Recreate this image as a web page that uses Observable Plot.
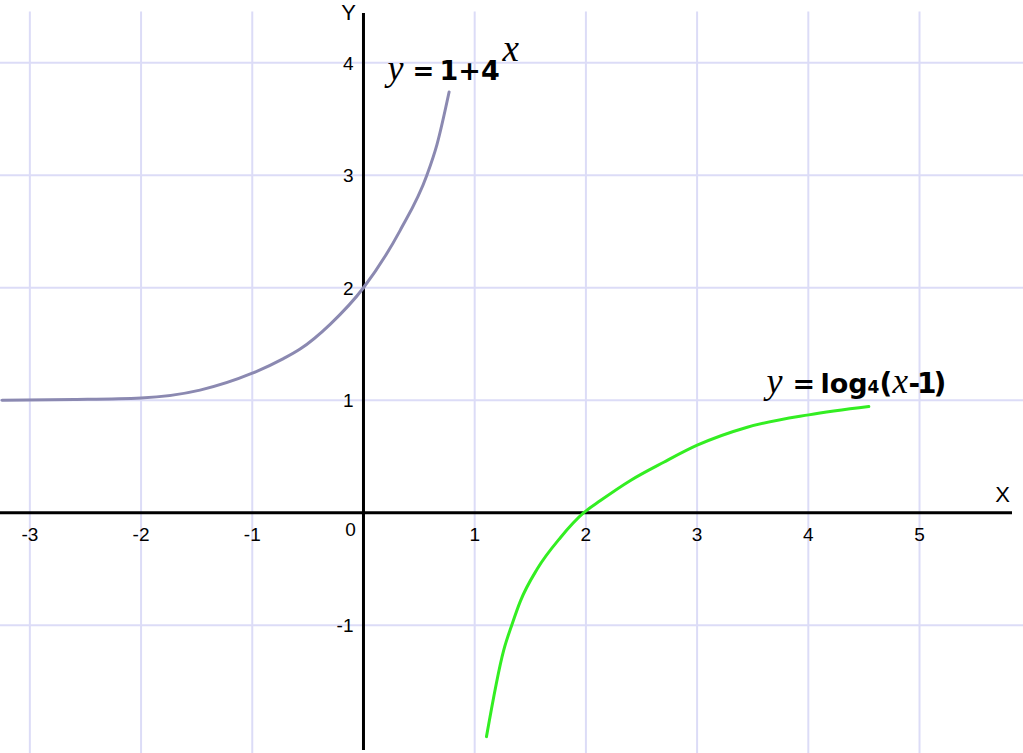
<!DOCTYPE html>
<html>
<head>
<meta charset="utf-8">
<script src="https://cdn.jsdelivr.net/npm/d3@7"></script>
<script src="https://cdn.jsdelivr.net/npm/@observablehq/plot@0.6"></script>
<style>
  html, body { margin: 0; padding: 0; background: #ffffff; }
  #chart svg { display: block; }
</style>
</head>
<body>
<div id="chart"></div>
<script>
// ---- Data ----
// y = 1 + 4^x (gray-violet curve)
const expX = [-3.25, -2.6, -2.0, -1.47, -1.0, -0.72, -0.57, -0.3, 0.0, 0.33, 0.57, 0.66, 0.77];
const expY = [1.0, 1.006, 1.02, 1.09, 1.24, 1.37, 1.455, 1.675, 2.0, 2.51, 3.0, 3.27, 3.74];
// y = log4(x - 1) (green curve)
const logX = [1.106, 1.26, 1.337, 1.412, 1.562, 1.772, 1.981, 2.131, 2.401, 2.7, 3.001, 3.451, 4.004, 4.544];
const logY = [-1.99, -1.225, -0.988, -0.783, -0.50, -0.22, 0.0, 0.108, 0.287, 0.449, 0.60, 0.76, 0.87, 0.944];

// tick labels
const xTicks = [-3, -2, -1, 1, 2, 3, 4, 5];
const yTicks = [-1, 1, 2, 3, 4];
const originLabel = ["0"];
const axisNames = ["X", "Y"];
const curveLabels = ["y = 1+4^x", "y = log4(x-1)"];

// ---- Layout ----
const W = 1023, H = 753;
const xDomain = [-3.264, 5.935];
const yDomain = [-2.140, 4.553];
const xAxisEnd = 5.836;
const yAxisTop = 4.437, yAxisBottom = -2.114;
const gridTop = 4.45;

const gridColor = "#dcdcf7";
const expColor = "#8b89b1";
const logColor = "#33ee22";
const sans = "'Liberation Sans', Arial, sans-serif";
const labelSans = "'DejaVu Sans', Verdana, sans-serif";
const serif = "'Liberation Serif', 'DejaVu Serif', serif";

const expData = expX.map((x, i) => ({x, y: expY[i]}));
const logData = logX.map((x, i) => ({x, y: logY[i]}));

const svg = Plot.plot({
  width: W,
  height: H,
  margin: 0,
  x: {domain: xDomain, axis: null},
  y: {domain: yDomain, axis: null},
  style: {background: "#ffffff", fontFamily: sans},
  marks: [
    // grid
    Plot.ruleX(xTicks, {x: d => d, y1: gridTop, y2: yDomain[0], stroke: gridColor, strokeWidth: 2}),
    Plot.ruleY(yTicks, {y: d => d, x1: xDomain[0], x2: xDomain[1], stroke: gridColor, strokeWidth: 2}),
    // axes
    Plot.ruleY([0], {x1: xDomain[0], x2: xAxisEnd, stroke: "#000", strokeWidth: 3}),
    Plot.ruleX([0], {y1: yAxisTop, y2: yAxisBottom, stroke: "#000", strokeWidth: 3}),
    // curves
    Plot.line(expData, {x: "x", y: "y", stroke: expColor, strokeWidth: 3, curve: "monotone-x"}),
    Plot.line(logData, {x: "x", y: "y", stroke: logColor, strokeWidth: 3, curve: "monotone-x"}),
    // tick labels
    Plot.text(xTicks, {x: d => d, y: 0, text: d => String(d), dy: 22, fontSize: 19, fill: "#000", textAnchor: "middle"}),
    Plot.text(yTicks, {x: 0, y: d => d, text: d => String(d), dx: -10, dy: 1, fontSize: 19, fill: "#000", textAnchor: "end"}),
    Plot.text(originLabel, {x: 0, y: 0, text: d => d, dx: -13, dy: 17, fontSize: 19, fill: "#000", textAnchor: "middle"}),
    // axis names
    Plot.text([axisNames[0]], {x: xDomain[1], y: 0, text: d => d, dx: -21, dy: -18, fontSize: 22, fill: "#000", textAnchor: "middle"}),
    Plot.text([axisNames[1]], {x: 0, y: yDomain[1], text: d => d, dx: -15, dy: 12, fontSize: 22, fill: "#000", textAnchor: "middle"}),
    // curve labels (rebuilt with rich text below)
    Plot.text([curveLabels[0]], {x: 0.225, y: 3.842, text: d => d, textAnchor: "start", fontSize: 27, fill: "#000"}),
    Plot.text([curveLabels[1]], {x: 3.633, y: 1.068, text: d => d, textAnchor: "start", fontSize: 28, fill: "#000"})
  ]
});

document.getElementById("chart").appendChild(svg);

// Rich formatting for the formula labels
function rich(content, parts) {
  const node = Array.from(svg.querySelectorAll("text")).find(n => n.textContent === content);
  if (!node) return;
  const t = d3.select(node);
  const bx = +t.attr("x") || 0;
  const by = +t.attr("y") || 0;
  t.attr("dy", null);
  while (node.firstChild) node.removeChild(node.firstChild);
  for (const p of parts) {
    const s = t.append("tspan")
      .attr("x", bx + p.dx)
      .attr("y", by + (p.dy || 0))
      .attr("font-family", p.serif ? serif : labelSans)
      .attr("font-style", p.serif ? "italic" : "normal")
      .attr("font-weight", p.serif ? "normal" : "bold")
      .attr("font-size", p.size)
      .text(p.t);
    if (p.ls) s.attr("letter-spacing", p.ls);
  }
}
rich(curveLabels[0], [
  {t: "y", dx: -1, size: 36, serif: true},
  {t: "=", dx: 24, size: 26},
  {t: "1+4", dx: 51, size: 27},
  {t: "x", dx: 114, dy: -19, size: 37, serif: true}
]);
rich(curveLabels[1], [
  {t: "y", dx: -1, size: 36, serif: true},
  {t: "=", dx: 25, size: 27},
  {t: "log", dx: 53, size: 27},
  {t: "4", dx: 100, size: 17},
  {t: "(", dx: 112, size: 28},
  {t: "x", dx: 125, size: 35, serif: true},
  {t: "-1)", dx: 141, size: 28, ls: -3}
]);
</script>
</body>
</html>
